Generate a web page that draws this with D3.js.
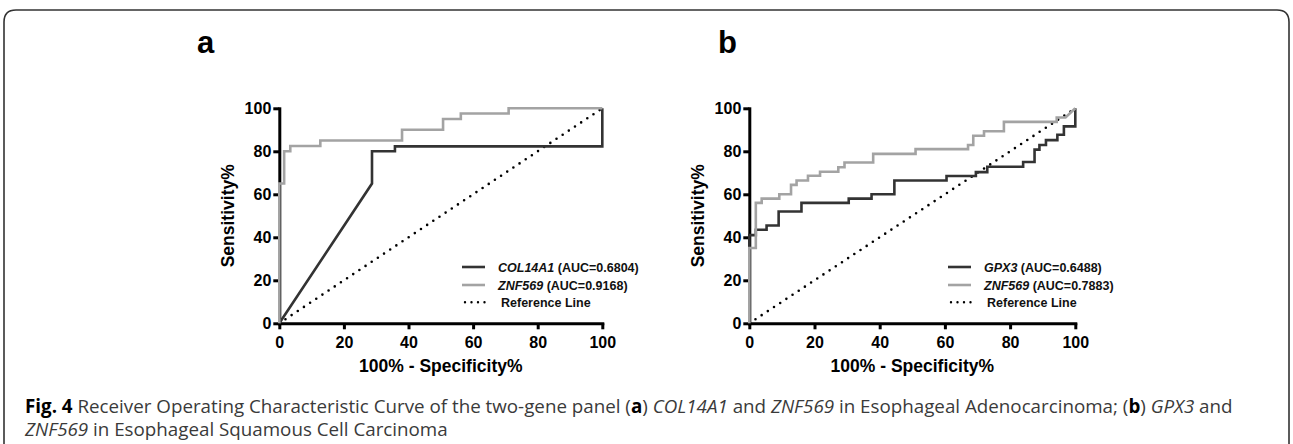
<!DOCTYPE html>
<html>
<head>
<meta charset="utf-8">
<script src="https://cdn.jsdelivr.net/npm/d3@7"></script>
<style>
  html, body { margin: 0; padding: 0; background: #fff; }
  svg { display: block; }
  .axis path, .axis line { stroke: #000; stroke-width: 3; }
  .axis text { font-family: "Liberation Sans", Arial, sans-serif; font-weight: bold; font-size: 16px; fill: #000; }
</style>
</head>
<body>
<svg id="chart" width="1293" height="444"></svg>
<script>
// ---- data -------------------------------------------------------------
const xTicks = [0, 20, 40, 60, 80, 100];
const yTicks = [0, 20, 40, 60, 80, 100];

// panel a
const col14a1Fpr = [0, 28.7, 28.7, 35.8, 35.8, 100, 100];
const col14a1Tpr = [0, 65, 80, 80, 82.3, 82.3, 100];
const znfAFpr = [0, 0, 1.5, 1.5, 3.4, 3.4, 12.7, 12.7, 38, 38, 50.7, 50.7, 56.2, 56.2, 71, 71, 100];
const znfATpr = [0, 65, 65, 80, 80, 82.5, 82.5, 85, 85, 90, 90, 95, 95, 97.6, 97.6, 100, 100];

// panel b
const gpx3Fpr = [0, 0, 2, 2, 5.3, 5.3, 9, 9, 16, 16, 30.5, 30.5, 37.5, 37.5, 44.5, 44.5, 60.5, 60.5,
  69.5, 69.5, 73, 73, 84, 84, 87.5, 87.5, 89, 89, 91, 91, 94.5, 94.5, 96.5, 96.5, 100, 100];
const gpx3Tpr = [0, 41, 41, 43.5, 43.5, 45.5, 45.5, 52, 52, 56, 56, 58, 58, 60, 60, 66.4, 66.4, 68.5,
  68.5, 70.3, 70.3, 72.8, 72.8, 75, 75, 80.8, 80.8, 82.9, 82.9, 85.2, 85.2, 87.7, 87.7, 91.6, 91.6, 100];
const znfBFpr = [0, 0, 2, 2, 3.8, 3.8, 9.2, 9.2, 12.8, 12.8, 14.5, 14.5, 18, 18, 21.7, 21.7, 27.3, 27.3,
  29.2, 29.2, 38, 38, 51, 51, 67.1, 67.1, 68.7, 68.7, 72, 72, 78.1, 78.1, 94.3, 94.3, 97, 100];
const znfBTpr = [0, 35, 35, 56, 56, 58, 58, 60, 60, 64.4, 64.4, 66.4, 66.4, 68.6, 68.6, 70.5, 70.5, 72.6,
  72.6, 74.8, 74.8, 78.8, 78.8, 81, 81, 82.9, 82.9, 87.2, 87.2, 89.3, 89.3, 93.7, 93.7, 95.7, 95.7, 100];

const panelLetters = ["a", "b"];
const legendGenes = [["COL14A1", "ZNF569"], ["GPX3", "ZNF569"]];
const legendAuc = [["0.6804", "0.9168"], ["0.6488", "0.7883"]];
const refLabel = "Reference Line";
const xLabel = "100% - Specificity%";
const yLabel = "Sensitivity%";

// ---- layout -----------------------------------------------------------
const svg = d3.select("#chart");
const FONT = "'Liberation Sans', Arial, sans-serif";
const DARK = "#333333";
const LIGHT = "#a3a3a3";

const panels = [
  { x0: 279.3, x1: 602.3, letterX: 197, legX: 462, series: [[col14a1Fpr, col14a1Tpr], [znfAFpr, znfATpr]] },
  { x0: 749.3, x1: 1075.3, letterX: 718, legX: 948, series: [[gpx3Fpr, gpx3Tpr], [znfBFpr, znfBTpr]] }
];
const yTop = 108.3, yBottom = 323.3;

// frame
svg.append("path")
  .attr("d", "M4,444 L4,22 Q4,10 16,10 L1277,10 Q1289,10 1289,22 L1289,444")
  .attr("fill", "none")
  .attr("stroke", "#333")
  .attr("stroke-width", 1.6);

panels.forEach((p, i) => {
  const x = d3.scaleLinear().domain([0, 100]).range([p.x0, p.x1]);
  const y = d3.scaleLinear().domain([0, 100]).range([yBottom, yTop]);
  const g = svg.append("g");

  // panel letter
  g.append("text")
    .attr("x", p.letterX)
    .attr("y", 53)
    .attr("font-family", FONT)
    .attr("font-weight", "bold")
    .attr("font-size", 31)
    .text(panelLetters[i]);

  // axes
  g.append("g")
    .attr("class", "axis")
    .attr("transform", `translate(0,${yBottom})`)
    .call(d3.axisBottom(x).tickValues(xTicks).tickSize(6).tickSizeOuter(0).tickPadding(7));

  g.append("g")
    .attr("class", "axis")
    .attr("transform", `translate(${p.x0},0)`)
    .call(d3.axisLeft(y).tickValues(yTicks).tickSize(6).tickSizeOuter(0).tickPadding(2));

  g.selectAll(".axis .domain").attr("stroke-linecap", "square");

  // axis titles
  g.append("text")
    .attr("x", (p.x0 + p.x1) / 2)
    .attr("y", 372)
    .attr("text-anchor", "middle")
    .attr("font-family", FONT)
    .attr("font-weight", "bold")
    .attr("font-size", 17.5)
    .text(xLabel);

  g.append("text")
    .attr("transform", `translate(${p.x0 - 45},${(yTop + yBottom) / 2}) rotate(-90)`)
    .attr("text-anchor", "middle")
    .attr("font-family", FONT)
    .attr("font-weight", "bold")
    .attr("font-size", 17.5)
    .text(yLabel);

  // reference diagonal
  const line = d3.line().x(d => x(d[0])).y(d => y(d[1]));
  g.append("path")
    .attr("d", line([[0, 0], [100, 100]]))
    .attr("fill", "none")
    .attr("stroke", "#000")
    .attr("stroke-width", 2.6)
    .attr("stroke-linecap", "round")
    .attr("stroke-dasharray", "0 7.4");

  // ROC curves: dark first, light on top
  const colors = [DARK, LIGHT];
  p.series.forEach((s, k) => {
    const pts = s[0].map((v, j) => [v, s[1][j]]);
    g.append("path")
      .attr("d", line(pts))
      .attr("fill", "none")
      .attr("stroke", colors[k])
      .attr("stroke-width", 2.6)
      .attr("stroke-linejoin", "miter");
  });

  // legend
  const legY = [267, 285, 302.3];
  const leg = g.append("g").attr("font-family", FONT).attr("font-weight", "bold").attr("font-size", 12.5);
  [0, 1].forEach(k => {
    leg.append("line")
      .attr("x1", p.legX).attr("x2", p.legX + 23)
      .attr("y1", legY[k]).attr("y2", legY[k])
      .attr("stroke", colors[k]).attr("stroke-width", 2.6);
    const t = leg.append("text").attr("x", p.legX + 36).attr("y", legY[k] + 4.5).attr("fill", "#111");
    t.append("tspan").attr("font-style", "italic").text(legendGenes[i][k]);
    t.append("tspan").text(` (AUC=${legendAuc[i][k]})`);
  });
  leg.append("line")
    .attr("x1", p.legX + 3).attr("x2", p.legX + 23)
    .attr("y1", legY[2]).attr("y2", legY[2])
    .attr("stroke", "#000").attr("stroke-width", 2.4)
    .attr("stroke-linecap", "round").attr("stroke-dasharray", "0 6.5");
  leg.append("text").attr("x", p.legX + 39).attr("y", legY[2] + 4.5).attr("fill", "#111").text(refLabel);
});

// caption
const cap = svg.append("g").attr("font-family", "'Open Sans', 'Noto Sans', sans-serif").attr("fill", "#3a3a3a");
const line1 = cap.append("text").attr("x", 25).attr("y", 413).attr("font-size", 15);
[
  ["Fig. 4", "b", ""], [" Receiver Operating Characteristic Curve of the two-gene panel (", "", ""],
  ["a", "b", ""], [") ", "", ""], ["COL14A1", "", "i"], [" and ", "", ""], ["ZNF569", "", "i"],
  [" in Esophageal Adenocarcinoma; (", "", ""], ["b", "b", ""], [") ", "", ""], ["GPX3", "", "i"], [" and", "", ""]
].forEach(([txt, b, it]) => {
  const ts = line1.append("tspan").text(txt);
  if (b) ts.attr("font-weight", "bold").attr("fill", "#000");
  if (it) ts.attr("font-style", "italic");
});
const line2 = cap.append("text").attr("x", 25).attr("y", 436).attr("font-size", 15);
line2.append("tspan").attr("font-style", "italic").text("ZNF569");
line2.append("tspan").text(" in Esophageal Squamous Cell Carcinoma");

// fit caption width to the reference
const w = line1.node().getComputedTextLength();
const fs = 15 * 1208 / w;
line1.attr("font-size", fs);
line2.attr("font-size", fs);
</script>
</body>
</html>
